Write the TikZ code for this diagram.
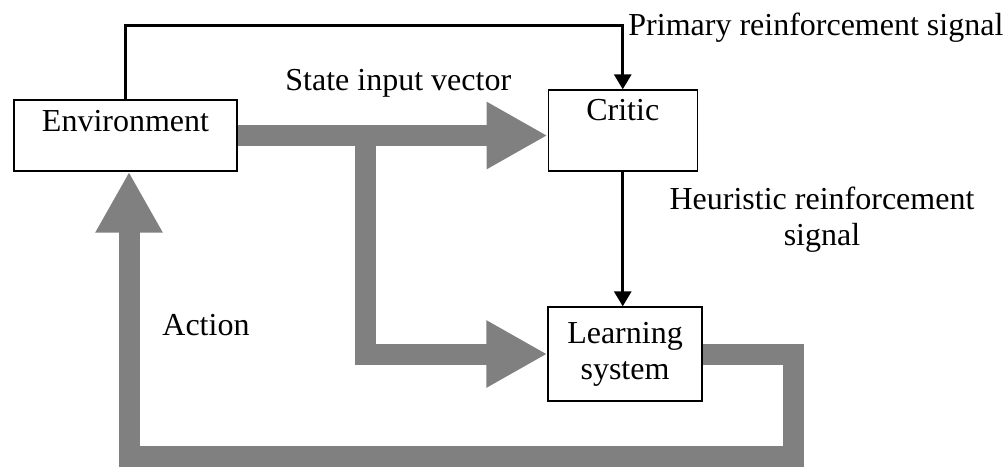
\documentclass[tikz,border=0pt]{standalone}
\usepackage{fontspec}
\setmainfont{Liberation Serif}
\usetikzlibrary{arrows.meta, positioning}

\begin{document}
\begin{tikzpicture}[x=0.5pt, y=-0.5pt,
    every node/.style={font=\fontsize{16}{18}\selectfont},
    block/.style={draw, line width=0.7pt, inner sep=0pt},
    label/.style={inner sep=0pt},
    signal/.style={-{Triangle[width=8.5pt, length=7.5pt]}, line width=1.5pt, line join=miter},
    flow/.style={-{Triangle[width=31.5pt, length=30.5pt]}, line width=10.5pt, gray, line join=miter}
  ]
  \useasboundingbox (0,0) rectangle (1007,467);

  % Blocks
  \node[block, minimum width=111.5pt, text height=15.85pt, text depth=19.65pt] (env) at (125.5,135.5) {Environment};
  \node[block, minimum width=74.5pt, text height=15pt, text depth=25.5pt] (critic) at (622.75,130.5) {Critic};
  \node[block, minimum width=77pt, minimum height=47pt, align=center] (learn) at (625,354) {Learning\\system};

  % Helper points for the thick paths
  \coordinate (split) at (365,135.5);
  \coordinate (backr) at (793,456);
  \coordinate (backl) at (129,456);

  % State vector and action (thick gray)
  \draw[flow] (env.east) -- (env.east -| critic.west);
  \draw[flow] (split) |- (learn.west);
  \draw[flow] (learn.east) -| (backr) -- (backl) -- (backl |- env.south);

  % Reinforcement signals (thin black)
  \draw[signal] (env.north) -- ++(0,-74) -| (critic.north);
  \draw[signal] (critic.south) -- (critic.south |- learn.north);

  % Labels
  \node[label, anchor=base west] (primary) at (628,35) {Primary reinforcement signal};
  \node[label, anchor=base west] (state) at (285,90) {State input vector};
  \node[label, anchor=base, align=center] (heur) at (822,245) {Heuristic reinforcement\\signal};
  \node[label, anchor=base west] (action) at (162,335) {Action};
\end{tikzpicture}
\end{document}
